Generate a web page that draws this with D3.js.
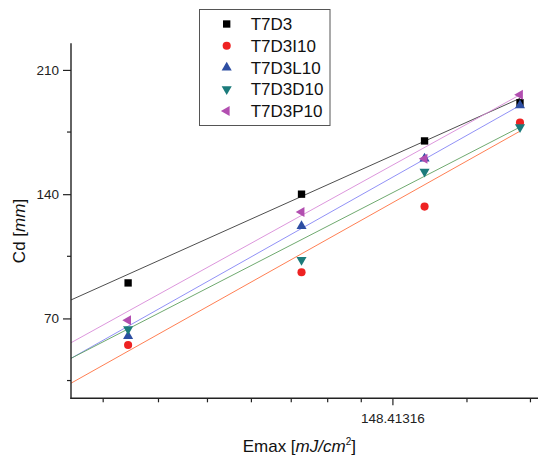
<!DOCTYPE html>
<html lang="en">
<head>
<meta charset="UTF-8">
<title>Cd vs Emax</title>
<script src="https://d3js.org/d3.v7.min.js"></script>
<style>
    * { margin: 0; padding: 0; box-sizing: border-box; }
    body { background: #ffffff; width: 538px; height: 459px; overflow: hidden; }
    svg { display: block; font-family: 'Liberation Sans', Arial, sans-serif; }
    .tick-label { font-size: 13.5px; fill: #222; }
    .axis-title { font-size: 17px; fill: #111; }
    .legend text { font-size: 17px; fill: #111; }
</style>
</head>
<body>
<div id="chart"></div>
<script>
    // data
    const emax = [80, 120, 160, 200];
    const seriesNames = ["T7D3", "T7D3I10", "T7D3L10", "T7D3D10", "T7D3P10"];
    const cdT7D3    = [90, 140, 170, 191.5];
    const cdT7D3I10 = [55, 96, 133, 180.3];
    const cdT7D3L10 = [60, 122, 160, 190];
    const cdT7D3D10 = [64, 103, 152.7, 177.7];
    const cdT7D3P10 = [69, 130, 160, 196];

    // fitted lines: value at the left axis (x = 70) and at the last point (x = 200)
    const fitX = [70, 200];
    const fitT7D3    = [80.4, 194];
    const fitT7D3I10 = [33.5, 175.5];
    const fitT7D3L10 = [47.5, 190];
    const fitT7D3D10 = [47.5, 177.8];
    const fitT7D3P10 = [56.3, 196];

    const yMajorTicks = [70, 140, 210];
    const yMinorTicks = [35, 105, 175];
    const xMajorTicks = [148.41316];
    const xMajorLabels = ["148.41316"];
    const xMinorTicks = [75.47, 85.89, 96.31, 106.73, 117.15, 127.57, 137.99, 176.68, 204.95];

    const series = [
        { name: seriesNames[0], cd: cdT7D3,    fit: fitT7D3,    shape: "square",   color: "#000000", line: "#3a3a3a" },
        { name: seriesNames[1], cd: cdT7D3I10, fit: fitT7D3I10, shape: "circle",   color: "#ee2222", line: "#ff7040" },
        { name: seriesNames[2], cd: cdT7D3L10, fit: fitT7D3L10, shape: "up",       color: "#2d4ea2", line: "#8585f5" },
        { name: seriesNames[3], cd: cdT7D3D10, fit: fitT7D3D10, shape: "down",     color: "#1b7b7b", line: "#5f9f5f" },
        { name: seriesNames[4], cd: cdT7D3P10, fit: fitT7D3P10, shape: "left",     color: "#b24eb0", line: "#d88ad8" }
    ];

    const W = 538, H = 459;
    const svg = d3.select("#chart").append("svg")
        .attr("width", W)
        .attr("height", H);

    const x = d3.scaleLog().base(Math.E)
        .domain([70, 208.6])
        .range([71, 538]);

    const y = d3.scaleLinear()
        .domain([25, 225])
        .range([398.3, 43.3]);

    function symbolPath(shape) {
        if (shape === "square") return d3.symbol(d3.symbolSquare, 54)();
        if (shape === "circle") return d3.symbol(d3.symbolCircle, 52)();
        return d3.symbol(d3.symbolTriangle, 44)();
    }
    function symbolRotate(shape) {
        if (shape === "down") return 180;
        if (shape === "left") return -90;
        return 0;
    }

    // fit lines
    const line = d3.line()
        .x(d => x(d[0]))
        .y(d => y(d[1]));

    series.forEach(s => {
        svg.append("path")
            .attr("d", line(fitX.map((v, i) => [v, s.fit[i]])))
            .attr("fill", "none")
            .attr("stroke", s.line)
            .attr("stroke-width", 0.9);
    });

    // markers
    series.forEach(s => {
        svg.append("g").selectAll("path")
            .data(emax.map((v, i) => [v, s.cd[i]]))
            .join("path")
            .attr("d", symbolPath(s.shape))
            .attr("fill", s.color)
            .attr("transform", d => `translate(${x(d[0])},${y(d[1])}) rotate(${symbolRotate(s.shape)})`);
    });

    // Y axis
    const yAxis = svg.append("g")
        .attr("transform", `translate(${x.range()[0]},0)`);
    yAxis.call(d3.axisLeft(y).tickValues(yMajorTicks).tickSize(8).tickPadding(4));
    yAxis.select(".domain").remove();
    yAxis.selectAll(".tick line").attr("stroke", "#222").attr("stroke-width", 1.2);
    yAxis.selectAll(".tick text").attr("class", "tick-label").attr("font-family", null).attr("font-size", null);
    yAxis.selectAll(".minor")
        .data(yMinorTicks)
        .join("line")
        .attr("class", "minor")
        .attr("x1", -4).attr("x2", 0)
        .attr("y1", d => y(d)).attr("y2", d => y(d))
        .attr("stroke", "#222").attr("stroke-width", 1.2);
    yAxis.append("line")
        .attr("x1", 0).attr("x2", 0)
        .attr("y1", y.range()[1]).attr("y2", y.range()[0] + 0.6)
        .attr("stroke", "#222").attr("stroke-width", 1.4);

    // X axis
    const xAxis = svg.append("g")
        .attr("transform", `translate(0,${y.range()[0]})`);
    xAxis.call(d3.axisBottom(x).tickValues(xMajorTicks).tickSize(7).tickPadding(8)
        .tickFormat((d, i) => xMajorLabels[i]));
    xAxis.select(".domain").remove();
    xAxis.selectAll(".tick line").attr("stroke", "#222").attr("stroke-width", 1.2);
    xAxis.selectAll(".tick text").attr("class", "tick-label").attr("font-family", null).attr("font-size", null);
    xAxis.selectAll(".minor")
        .data(xMinorTicks)
        .join("line")
        .attr("class", "minor")
        .attr("x1", d => x(d)).attr("x2", d => x(d))
        .attr("y1", 0).attr("y2", 4)
        .attr("stroke", "#222").attr("stroke-width", 1.2);
    xAxis.append("line")
        .attr("x1", x.range()[0] - 0.6).attr("x2", x.range()[1])
        .attr("y1", 0).attr("y2", 0)
        .attr("stroke", "#222").attr("stroke-width", 1.4);

    // axis titles
    const xTitle = svg.append("text")
        .attr("class", "axis-title")
        .attr("x", 242.7)
        .attr("y", 452);
    xTitle.append("tspan").text("Emax [");
    xTitle.append("tspan").attr("font-style", "italic").text("mJ/cm");
    xTitle.append("tspan").attr("font-size", "10px").attr("dy", -7).text("2");
    xTitle.append("tspan").attr("dy", 7).text("]");

    const yTitle = svg.append("text")
        .attr("class", "axis-title")
        .attr("text-anchor", "middle")
        .attr("transform", "translate(25,231) rotate(-90)");
    yTitle.append("tspan").text("Cd [");
    yTitle.append("tspan").attr("font-style", "italic").text("mm");
    yTitle.append("tspan").text("]");

    // legend
    const legend = svg.append("g").attr("class", "legend");
    legend.append("rect")
        .attr("x", 199.5).attr("y", 9.5)
        .attr("width", 130.5).attr("height", 116)
        .attr("fill", "#fff")
        .attr("stroke", "#555")
        .attr("stroke-width", 1);

    series.forEach((s, i) => {
        const row = legend.append("g")
            .attr("transform", `translate(226.7,${24 + i * 21.75})`);
        row.append("path")
            .attr("d", symbolPath(s.shape))
            .attr("fill", s.color)
            .attr("transform", `rotate(${symbolRotate(s.shape)})`);
        row.append("text")
            .attr("x", 24)
            .attr("y", 6.2)
            .text(s.name);
    });
</script>
</body>
</html>
